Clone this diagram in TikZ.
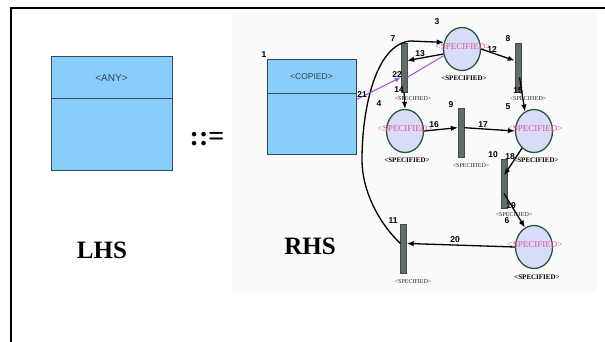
\documentclass[tikz,border=0pt]{standalone}
\usepackage{fontspec}
\setmainfont{Liberation Serif}
\newfontfamily\arialf{Liberation Sans}
\usetikzlibrary{shapes.geometric,arrows.meta}
\definecolor{boxblue}{RGB}{135,206,250}
\definecolor{boxline}{RGB}{50,75,90}
\definecolor{boxtxt}{RGB}{55,70,80}
\definecolor{placefill}{RGB}{216,220,248}
\definecolor{placeline}{RGB}{35,90,60}
\definecolor{barfill}{RGB}{95,110,105}
\definecolor{pinktxt}{RGB}{225,85,145}
\definecolor{arcpurple}{RGB}{160,80,220}
\definecolor{imgbg}{RGB}{250,250,250}
\begin{document}
\begin{tikzpicture}[x=1pt,y=-1pt,
  umlbox/.style={rectangle, draw=boxline, line width=1pt, fill=boxblue, inner sep=0pt},
  boxlabel/.style={font=\arialf\fontsize{10}{11}\selectfont, text=boxtxt, inner sep=0pt},
  place/.style={ellipse, draw=placeline, line width=1.3pt, fill=placefill, minimum width=37pt, minimum height=43pt, inner sep=0pt},
  trans/.style={rectangle, draw=barfill!70!black, line width=0.4pt, fill=barfill, minimum width=6pt, minimum height=49pt, inner sep=0pt},
  pinklbl/.style={font=\fontsize{9}{10}\selectfont, text=pinktxt, inner sep=0pt},
  plbl/.style={font=\bfseries\fontsize{7}{8}\selectfont, inner sep=0pt},
  tlbl/.style={font=\fontsize{6}{7}\selectfont, text=black!85, inner sep=0pt},
  num/.style={font=\arialf\bfseries\fontsize{8.5}{9}\selectfont, inner sep=0pt},
  bigtxt/.style={font=\bfseries\fontsize{25}{28}\selectfont, inner sep=0pt},
  arc/.style={draw, line width=1.3pt, -{Latex[length=7pt,width=5.5pt]}},
  purplearc/.style={draw=arcpurple, line width=1pt, -{Latex[length=6pt,width=4.5pt]}},
  purpleline/.style={draw=arcpurple, line width=1pt}
]
\useasboundingbox (0,0) rectangle (605,342);
\fill[white] (0,0) rectangle (605,342);
\fill[imgbg] (232,12) rectangle (597,293);
\draw[line width=2pt] (605,8) -- (11,8) -- (11,342);

% LHS
\node[umlbox, minimum width=121pt, minimum height=113pt] (any) at (111.5,113.5) {};
\draw[boxline, line width=1pt] (any.west |- 0,99) -- (any.east |- 0,99);
\node[boxlabel] (anyt) at (111.5,78) {<ANY>};
\node[font=\bfseries\fontsize{28}{30}\selectfont, inner sep=0pt] (defs) at (207,139) {::=};
\node[bigtxt] (lhs) at (102,250) {LHS};
\node[bigtxt] (rhs) at (310,246) {RHS};

% RHS
\node[umlbox, minimum width=89pt, minimum height=95pt] (cp) at (311.5,107.5) {};
\draw[boxline, line width=1pt] (cp.west |- 0,94) -- (cp.east |- 0,94);
\node[boxlabel, font=\arialf\fontsize{8.5}{9}\selectfont] (cpt) at (311.5,77) {<COPIED>};

% places
\node[place] (p3) at (462,49) {};
\node[place] (p4) at (405,131) {};
\node[place] (p5) at (534,131) {};
\node[place] (p6) at (534,247) {};
% transitions
\node[trans] (t7) at (404,67.5) {};
\node[trans] (t8) at (518,67.5) {};
\node[trans] (t9) at (461,133) {};
\node[trans] (t10) at (504,183.5) {};
\node[trans] (t11) at (403.5,249) {};

% arcs
\draw[arc] (p3.east) -- (t8.115);
\draw[arc] (p3.195) -- (t7.65);
\draw[arc] (t7.south) -- (p4.north);
\draw[arc, shorten <=10pt] (t8.center) -- (p5.115);
\draw[arc] (p4.east) -- (t9.121);
\draw[arc] (t9.59) -- (p5.west);
\draw[arc] (p5.235) -- ([yshift=8pt]t10.center);
\draw[arc] ([yshift=-10pt]t10.center) -- (p6.115);
\draw[arc] (p6.west) -- (t11.60);
\draw[arc] (t11.120) .. controls (378,222) and (362,190) .. (362,160)
  .. controls (362,110) and (375,45) .. (410,41) -- (p3.160);
\draw[purplearc] ([yshift=8pt]cp.east) -- (t7.252);
\draw[purpleline] (t7.288) -- (p3.200);

% pink texts in places
\node[pinklbl] (p3t) at (463,47) {<SPECIFIED>};
\node[pinklbl] (p4t) at (405,129) {<SPECIFIED>};
\node[pinklbl] (p5t) at (535,129) {<SPECIFIED>};
\node[pinklbl] (p6t) at (535,245) {<SPECIFIED>};
% labels under places
\node[plbl] (p3b) at (464,78) {<SPECIFIED>};
\node[plbl] (p4b) at (407,160) {<SPECIFIED>};
\node[plbl] (p5b) at (536,160) {<SPECIFIED>};
\node[plbl] (p6b) at (537,277) {<SPECIFIED>};
% labels under transitions
\node[tlbl] (t7b) at (413,99) {<SPECIFIED>};
\node[tlbl] (t8b) at (528,99) {<SPECIFIED>};
\node[tlbl] (t9b) at (471,166) {<SPECIFIED>};
\node[tlbl] (t10b) at (514,215) {<SPECIFIED>};
\node[tlbl] (t11b) at (413,282) {<SPECIFIED>};

% numbers
\node[num] (n1) at (264,55) {1};
\node[num] (n3) at (437,22) {3};
\node[num] (n4) at (379,104) {4};
\node[num] (n5) at (508,107) {5};
\node[num] (n6) at (507,221) {6};
\node[num] (n7) at (393,39) {7};
\node[num] (n8) at (508,39) {8};
\node[num] (n9) at (451,105) {9};
\node[num] (n10) at (493,155) {10};
\node[num] (n11) at (393,221) {11};
\node[num] (n12) at (492,50) {12};
\node[num] (n13) at (420,54) {13};
\node[num] (n14) at (399,90) {14};
\node[num] (n15) at (518,91) {15};
\node[num] (n16) at (434,125) {16};
\node[num] (n17) at (483,125) {17};
\node[num] (n18) at (510,157) {18};
\node[num] (n19) at (511,206) {19};
\node[num] (n20) at (455,240) {20};
\node[num] (n21) at (362,95) {21};
\node[num] (n22) at (397,75) {22};
\end{tikzpicture}
\end{document}
